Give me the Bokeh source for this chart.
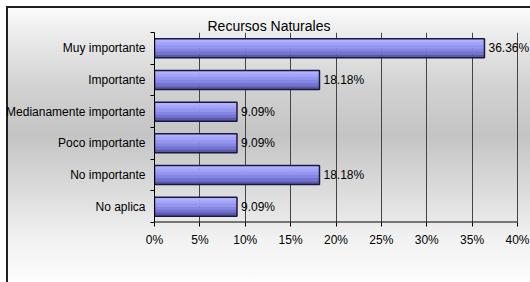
from bokeh.plotting import figure
from bokeh.models import ColumnDataSource, Range1d, FixedTicker, PrintfTickFormatter, LabelSet
from bokeh.transform import dodge
from bokeh.core.properties import value
from bokeh.embed import file_html
from bokeh.resources import INLINE

title_text = "Recursos Naturales"
categories = ["Muy importante", "Importante", "Medianamente importante",
              "Poco importante", "No importante", "No aplica"]
values = [36.36, 18.18, 9.09, 9.09, 18.18, 9.09]
x_ticks = [0, 5, 10, 15, 20, 25, 30, 35, 40]

n = len(categories)
ycent = [n - i - 0.5 for i in range(n)]
labels = [f"{v:.2f}%" for v in values]

FONT = "Liberation Sans"

W, H = 530, 282
LEFT, AXIS_END_PX = 154, 517       # frame left, pixel of the last tick
frame_w = W - LEFT
x_end = x_ticks[-1] * frame_w / (AXIS_END_PX - LEFT)   # extra room for value labels

p = figure(width=W, height=H, output_backend="svg", toolbar_location=None,
           x_range=Range1d(0, x_end), y_range=Range1d(0, n),
           min_border_left=LEFT, min_border_right=0, min_border_top=32,
           min_border_bottom=60)
p.background_fill_color = None
p.border_fill_color = None
p.outline_line_color = None
p.styles = {
    "background-image":
        "linear-gradient(#ffffff, #ffffff), "
        "linear-gradient(#202020, #202020), "
        "linear-gradient(to bottom, #ffffff 0px, #ffffff 6px, #202020 6px, #202020 8px, "
        "#fbfbfb 8px, #f2f2f2 8%, #d2d2d2 30%, #c4c4c4 48%, "
        "#dcdcdc 68%, #f2f2f2 85%, #fdfdfd 100%)",
    "background-size": "6px 100%, 2px 100%, 100% 100%",
    "background-position": "0px 0px, 6px 6px, 0px 0px",
    "background-repeat": "no-repeat",
}

p.title.text = title_text
p.title.text_font = FONT
p.title.text_font_size = "14px"
p.title.text_font_style = "normal"
p.title.text_color = "#000000"
p.title.align = "left"
p.title.offset = 53
p.title.standoff = -3

# grid
p.ygrid.visible = False
p.xgrid.ticker = FixedTicker(ticks=x_ticks)
p.xgrid.grid_line_color = "#444444"
p.xgrid.grid_line_width = 1

# x axis
xa = p.xaxis[0]
xa.ticker = FixedTicker(ticks=x_ticks)
xa.formatter = PrintfTickFormatter(format="%d%%")
xa.axis_line_color = None
xa.major_tick_line_color = "#000000"
xa.major_tick_out = 4
xa.major_tick_in = 0
xa.minor_tick_line_color = None
xa.major_label_text_font = FONT
xa.major_label_text_font_size = "12px"
xa.major_label_text_color = "#000000"
xa.major_label_standoff = 6

# axis baseline only over the tick span
p.segment(x0=[x_ticks[0]], x1=[x_ticks[-1]], y0=[0], y1=[0],
          line_color="#000000", line_width=2)

# y axis
ya = p.yaxis[0]
ya.ticker = FixedTicker(ticks=ycent, minor_ticks=list(range(n + 1)))
ya.major_label_overrides = {y: c for y, c in zip(ycent, categories)}
ya.axis_line_color = "#000000"
ya.major_tick_out = 0
ya.major_tick_in = 0
ya.major_tick_line_color = None
ya.minor_tick_out = 4
ya.minor_tick_in = 0
ya.minor_tick_line_color = "#000000"
ya.major_label_text_font = FONT
ya.major_label_text_font_size = "12px"
ya.major_label_text_color = "#000000"
ya.major_label_standoff = 5

src = ColumnDataSource(dict(y=ycent, v=values, lab=labels))

# bars with vertical shading (light top -> dark bottom)
bar_h = 0.6
shades = ["#b0b0ff", "#a3a3fb", "#9595f2", "#8686e4", "#7373d0", "#5858ac"]
strip = bar_h / len(shades)
for k, col in enumerate(shades):
    off = bar_h / 2 - strip * (k + 0.5)
    p.hbar(y=dodge("y", off, range=p.y_range), left=0, right="v", height=strip * 1.08,
           source=src, fill_color=col, line_color=None)
p.hbar(y="y", left=0, right="v", height=bar_h, source=src, fill_color=None,
       line_color="#1a1a40", line_width=1.5)

lbl = LabelSet(x="v", y="y", text="lab", source=src, x_offset=4,
               text_font=value(FONT), text_font_size="12px", text_color="#000000",
               text_baseline="middle", text_align="left")
p.add_layout(lbl)

open("out.html", "w").write(file_html(p, INLINE))
